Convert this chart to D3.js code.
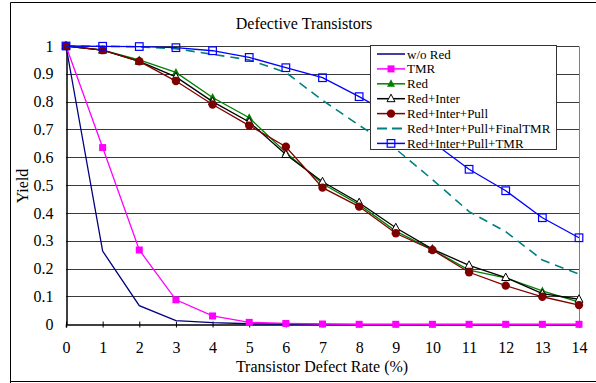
<!DOCTYPE html>
<html>
<head>
<meta charset="utf-8">
<script src="https://cdn.jsdelivr.net/npm/d3@7"></script>
<style>
  html, body { margin: 0; padding: 0; background: #fff; }
  svg { display: block; }
  text { font-family: "Liberation Serif", "Times New Roman", serif; fill: #000; }
</style>
</head>
<body>
<svg id="chart" width="596" height="383"></svg>
<script>
// Defect rate (%) along the x axis
const defectRates = [0, 1, 2, 3, 4, 5, 6, 7, 8, 9, 10, 11, 12, 13, 14];
const yTicks = [0, 0.1, 0.2, 0.3, 0.4, 0.5, 0.6, 0.7, 0.8, 0.9, 1];

// Yield per configuration
const woRed       = [1, 0.263, 0.067, 0.013, 0.006, 0.002, 0.001, 0, 0, 0, 0, 0, 0, 0, 0];
const tmr         = [1, 0.635, 0.267, 0.088, 0.030, 0.007, 0.003, 0.001, 0, 0, 0, 0, 0, 0, 0];
const red         = [1, 0.985, 0.950, 0.905, 0.815, 0.742, 0.617, 0.505, 0.430, 0.335, 0.268, 0.195, 0.167, 0.120, 0.080];
const redInter    = [1, 0.985, 0.945, 0.889, 0.800, 0.727, 0.610, 0.512, 0.437, 0.347, 0.270, 0.212, 0.168, 0.110, 0.090];
const redIntPull  = [1, 0.985, 0.945, 0.874, 0.790, 0.714, 0.638, 0.491, 0.423, 0.327, 0.267, 0.187, 0.139, 0.099, 0.069];
const finalTMR    = [1, 0.999, 0.997, 0.990, 0.970, 0.950, 0.905, 0.805, 0.715, 0.630, 0.520, 0.405, 0.333, 0.231, 0.180];
const pullTMR     = [1, 0.999, 0.998, 0.994, 0.983, 0.959, 0.922, 0.886, 0.818, 0.745, 0.655, 0.557, 0.480, 0.383, 0.311];

const series = [
  { name: "w/o Red", values: woRed, color: "#000080", marker: null },
  { name: "TMR", values: tmr, color: "#FF00FF", marker: "square" },
  { name: "Red", values: red, color: "#008000", marker: "triangle" },
  { name: "Red+Inter", values: redInter, color: "#000000", marker: "openTriangle" },
  { name: "Red+Inter+Pull", values: redIntPull, color: "#800000", marker: "circle" },
  { name: "Red+Inter+Pull+FinalTMR", values: finalTMR, color: "#008080", marker: null, dash: "9,6", width: 1.6 },
  { name: "Red+Inter+Pull+TMR", values: pullTMR, color: "#0000FF", marker: "openSquare" }
];

const FONT = "Liberation Serif, Times New Roman, serif";
const svg = d3.select("#chart");

// Outer frame
svg.append("path")
  .attr("d", "M10.5,383 V2.5 H596 M10.5,381.5 H596")
  .attr("fill", "none").attr("stroke", "#000").attr("stroke-width", 1);

const x = d3.scaleLinear().domain([0, 14]).range([66, 579]);
const y = d3.scaleLinear().domain([0, 1]).range([324.3, 46]);

// Title
svg.append("text").attr("x", 304).attr("y", 29)
  .attr("text-anchor", "middle").style("font-size", "16px")
  .text("Defective Transistors");

// Horizontal grid
svg.append("g").selectAll("line").data(yTicks.filter(d => d > 0)).join("line")
  .attr("x1", x(0)).attr("x2", x(14))
  .attr("y1", d => Math.round(y(d)) + 0.5).attr("y2", d => Math.round(y(d)) + 0.5)
  .attr("stroke", "#3a3a3a").attr("stroke-width", 1);

// Right plot edge
svg.append("line")
  .attr("x1", Math.round(x(14)) + 0.5).attr("x2", Math.round(x(14)) + 0.5)
  .attr("y1", Math.round(y(1)) + 0.5).attr("y2", Math.round(y(0)) + 0.5)
  .attr("stroke", "#808080");

// Y axis
const yAxis = d3.axisLeft(y).tickValues(yTicks).tickSize(0).tickPadding(13)
  .tickFormat(d => d === 0 ? "0" : d === 1 ? "1" : d3.format(".1f")(d));
const gy = svg.append("g").attr("transform", `translate(${Math.round(x(0)) + 0.5},0)`).call(yAxis);
gy.select(".domain").attr("stroke", "#000").attr("stroke-width", 1.5);
gy.selectAll("text").style("font-size", "16px").style("font-family", FONT);

// X axis with crossing ticks
const xAxis = d3.axisBottom(x).tickValues(defectRates).tickSize(3).tickPadding(14);
const gx = svg.append("g").attr("transform", `translate(0,${Math.round(y(0)) + 0.5})`).call(xAxis);
gx.select(".domain").attr("stroke", "#000").attr("stroke-width", 1.5);
gx.selectAll(".tick line").attr("y1", -3).attr("stroke", "#000");
gx.selectAll("text").style("font-size", "16px").style("font-family", FONT);

// Axis titles
svg.append("text").attr("x", 322).attr("y", 372)
  .attr("text-anchor", "middle").style("font-size", "16px")
  .text("Transistor Defect Rate (%)");
svg.append("text")
  .attr("transform", "translate(28,186) rotate(-90)")
  .attr("text-anchor", "middle").style("font-size", "16px")
  .text("Yield");

// Series lines
const line = d3.line().x((d, i) => x(defectRates[i])).y(d => y(d));

function drawMarker(g, type, color, cx, cy) {
  if (type === "square") {
    g.append("rect").attr("x", cx - 3.5).attr("y", cy - 3.5).attr("width", 7).attr("height", 7)
      .attr("fill", color);
  } else if (type === "openSquare") {
    g.append("rect").attr("x", cx - 3.8).attr("y", cy - 3.8).attr("width", 7.6).attr("height", 7.6)
      .attr("fill", "none").attr("stroke", color).attr("stroke-width", 1.2);
  } else if (type === "triangle") {
    g.append("path").attr("d", `M${cx},${cy - 4.5}L${cx + 4},${cy + 3}L${cx - 4},${cy + 3}Z`)
      .attr("fill", color);
  } else if (type === "openTriangle") {
    g.append("path").attr("d", `M${cx},${cy - 4.5}L${cx + 4},${cy + 3}L${cx - 4},${cy + 3}Z`)
      .attr("fill", "#fff").attr("stroke", color).attr("stroke-width", 1);
  } else if (type === "circle") {
    g.append("circle").attr("cx", cx).attr("cy", cy).attr("r", 4.2).attr("fill", color);
  }
}

const plot = svg.append("g");
series.forEach(s => {
  const g = plot.append("g");
  g.append("path").datum(s.values).attr("d", line)
    .attr("fill", "none").attr("stroke", s.color)
    .attr("stroke-width", s.width || 1.3)
    .attr("stroke-dasharray", s.dash || null);
  if (s.marker) {
    s.values.forEach((v, i) => drawMarker(g, s.marker, s.color, x(defectRates[i]), y(v)));
  }
});

// Legend
const lg = svg.append("g");
lg.append("rect").attr("x", 370.5).attr("y", 45.5).attr("width", 186).attr("height", 104)
  .attr("fill", "#fff").attr("stroke", "#333").attr("stroke-width", 1);
series.forEach((s, i) => {
  const cy = 54 + i * 14.9;
  lg.append("line").attr("x1", 377).attr("x2", 405).attr("y1", cy).attr("y2", cy)
    .attr("stroke", s.color).attr("stroke-width", s.dash ? 2.2 : 1.5)
    .attr("stroke-dasharray", s.dash ? "10,5" : null);
  if (s.marker) drawMarker(lg, s.marker, s.color, 391, cy);
  lg.append("text").attr("x", 407).attr("y", cy + 4.5)
    .style("font-size", "13px").text(s.name);
});
</script>
</body>
</html>
